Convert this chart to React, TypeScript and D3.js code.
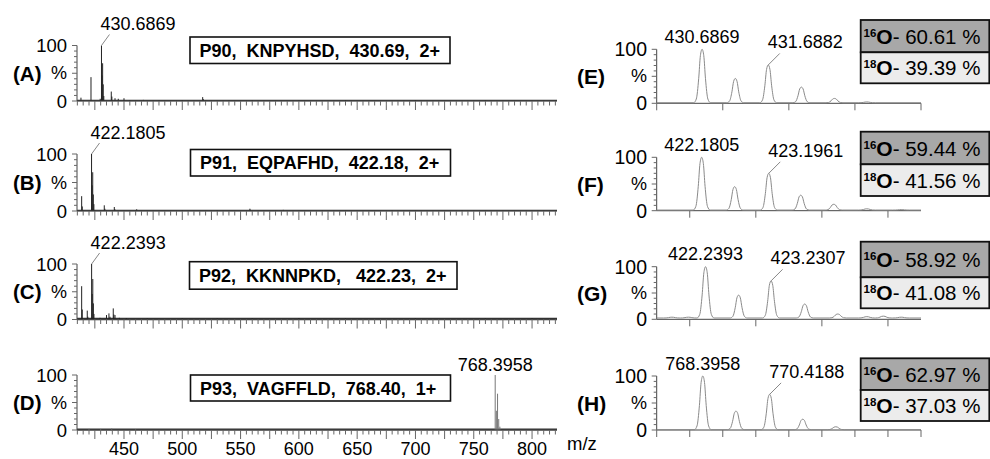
import React, { useEffect } from 'react';
import * as d3 from 'd3';

const W = 990;
const H = 459;
const FONT = '"Liberation Sans", Arial, Helvetica, sans-serif';

// ---------- Left panels (full MS spectra) ----------
const leftLetters = ['(A)', '(B)', '(C)', '(D)'];
const leftTitles = [
  'P90,  KNPYHSD,  430.69,  2+',
  'P91,  EQPAFHD,  422.18,  2+',
  'P92,  KKNNPKD,   422.23,  2+',
  'P93,  VAGFFLD,  768.40,  1+',
];
const leftPeakLabels = ['430.6869', '422.1805', '422.2393', '768.3958'];
const leftPeakMz = [430.6869, 422.1805, 422.2393, 768.3958];
const leftTickLabels = [450, 500, 550, 600, 650, 700, 750, 800];

const spectrumA: [number, number][] = [
  [413.1, 6], [421.7, 43], [429.6, 4], [430.6869, 100], [431.19, 46], [431.69, 68], [432.19, 30], [432.69, 9],
  [439.1, 17], [439.6, 8], [442.3, 5], [445.1, 4], [450.0, 5], [455, 1.5], [466.6, 2], [480, 1.2], [500, 1.5],
  [517.5, 7], [518.2, 3], [540, 1], [560, 1.5], [600, 1], [640, 1.2], [700, 1], [760, 1],
];
const spectrumB: [number, number][] = [
  [413.7, 26], [414.2, 8], [422.1805, 100], [422.68, 45], [423.18, 68], [423.68, 29], [424.18, 12],
  [433.1, 10], [433.6, 4], [441.7, 7], [442.2, 3], [460.9, 3], [500, 1.2], [530, 1], [558, 4], [558.5, 2],
  [586.6, 2], [620, 1], [680, 1], [740, 1],
];
const spectrumC: [number, number][] = [
  [413.7, 60], [414.2, 18], [418.5, 16], [419.0, 5], [422.2393, 100], [422.74, 46], [423.24, 73], [423.74, 29], [424.24, 10],
  [429.4, 3], [435.0, 8], [437.1, 11], [438.0, 5], [440.8, 20], [441.3, 9], [442.3, 8], [446, 3], [452, 2.5],
  [470, 2], [500, 2], [530, 2], [560, 2], [600, 2.5], [640, 2], [700, 2], [760, 2], [800, 2],
];
const spectrumD: [number, number][] = [
  [420, 2], [430, 2], [439.5, 3], [460, 1.5], [768.3958, 100], [769.40, 35], [770.42, 66], [771.42, 20], [772.42, 6],
];
const leftSpectra = [spectrumA, spectrumB, spectrumC, spectrumD];

// ---------- Right panels (isotope envelopes) ----------
const rightLetters = ['(E)', '(F)', '(G)', '(H)'];
const rightDomains: [number, number][] = [[430, 434], [421.5, 425.5], [421.5, 425.5], [767, 775]];
const rightTicks = [
  [430, 431, 432, 433, 434],
  [422, 423, 424, 425],
  [422, 423, 424, 425],
  [767, 768, 769, 770, 771, 772, 773, 774, 775],
];
const rightLabel1 = ['430.6869', '422.1805', '422.2393', '768.3958'];
const rightLabel2 = ['431.6882', '423.1961', '423.2307', '770.4188'];
const envelopeE: [number, number][] = [
  [430.6869, 100], [431.19, 46], [431.6882, 71], [432.19, 30], [432.69, 9], [433.18, 2.5],
];
const envelopeF: [number, number][] = [
  [422.1805, 100], [422.68, 45], [423.1961, 70], [423.68, 29], [424.18, 12], [424.68, 3.5], [425.2, 2],
];
const envelopeG: [number, number][] = [
  [421.73, 4], [421.98, 4], [422.2393, 100], [422.74, 46], [423.2307, 73], [423.74, 29], [424.24, 10],
  [424.68, 5], [424.93, 6], [425.2, 4],
];
const envelopeH: [number, number][] = [
  [768.3958, 100], [769.40, 35], [770.4188, 66], [771.42, 20], [772.42, 6],
];
const rightEnvelopes = [envelopeE, envelopeF, envelopeG, envelopeH];
const rightBaselines = [1, 1.2, 2.5, 0.6];

const o16Values = ['60.61', '59.44', '58.92', '62.97'];
const o18Values = ['39.39', '41.56', '41.08', '37.03'];

// ---------- Layout (style) ----------
const leftX: [number, number] = [77, 557];
const leftDomain: [number, number] = [409.7, 821.4];
const leftRows = [
  { y0: 101, y100: 45.5, box: [190, 37, 260, 26.5], base: 1.4 },
  { y0: 211, y100: 154, box: [190.5, 149.5, 260, 26.5], base: 1.4 },
  { y0: 319.5, y100: 264, box: [189.5, 261.7, 267.5, 27.5], base: 2.4 },
  { y0: 430, y100: 375, box: [190.5, 375, 260, 26], base: 1.8 },
];
const rightX: [number, number] = [656.7, 921];
const rightRows = [
  { y0: 103.3, y100: 49.3, box: [20, 52.3, 83.3] },
  { y0: 210.7, y100: 157.3, box: [131.7, 164.3, 196] },
  { y0: 319.3, y100: 266.7, box: [241.7, 277.3, 308.3] },
  { y0: 430, y100: 376, box: [358.3, 390, 421] },
];

const shapeDx = [-8.5, -5.8, -3.4, -1.7, 0, 1.7, 3.4, 5.8, 8.5];
const shapeF = [0, 0.07, 0.45, 0.88, 1, 0.88, 0.45, 0.07, 0];

function LeftPanel({ i }: { i: number }) {
  const row = leftRows[i];
  const x = d3.scaleLinear().domain(leftDomain).range(leftX);
  const y = d3.scaleLinear().domain([0, 100]).range([row.y0, row.y100]);
  const peaks = leftSpectra[i];
  const stickPath = peaks.map(([m, v]) => `M${x(m).toFixed(2)},${y(0)}V${y(v).toFixed(2)}`).join('');
  const minor = d3.range(410, leftDomain[1], 5);
  const yTicks = d3.range(0, 101, 10);
  const pm = leftPeakMz[i];
  const px = x(pm);
  const isD = i === 3;
  const [bx, by, bw, bh] = row.box;
  return (
    <g>
      <line x1={leftX[0]} x2={leftX[1]} y1={y(0) - 0.5} y2={y(0) - 0.5} stroke="#333" strokeWidth={row.base} />
      <path d={stickPath} stroke={isD ? '#777' : '#222'} strokeWidth={1} fill="none" />
      <line x1={leftX[0]} x2={leftX[1]} y1={y(0)} y2={y(0)} stroke="#444" strokeWidth={1} />
      {minor.map((t) => (
        <line key={t} x1={x(t)} x2={x(t)} y1={y(0)} y2={y(0) + (t % 25 === 0 ? 9 : 4.5)} stroke="#666" strokeWidth={1} />
      ))}
      <line x1={leftX[0]} x2={leftX[0]} y1={y(0)} y2={y(100)} stroke="#444" strokeWidth={1} />
      {yTicks.map((t) => (
        <line key={t} x1={leftX[0] - (t % 50 === 0 ? 5 : 3)} x2={leftX[0]} y1={y(t)} y2={y(t)} stroke="#666" strokeWidth={1} />
      ))}
      <text x={67} y={y(100) + 6.5} fontSize={18.5} textAnchor="end" fontFamily={FONT}>100</text>
      <text x={67} y={y(0) + 6.5} fontSize={18.5} textAnchor="end" fontFamily={FONT}>0</text>
      <text x={67} y={(y(0) + y(100)) / 2 + 6} fontSize={18} textAnchor="end" fontFamily={FONT}>%</text>
      <text x={13} y={(y(0) + y(100)) / 2 + 7.5} fontSize={20.5} fontWeight="bold" fontFamily={FONT}>{leftLetters[i]}</text>
      {isD ? (
        <text x={px} y={y(100) - 4} fontSize={18} textAnchor="middle" fontFamily={FONT}>{leftPeakLabels[i]}</text>
      ) : (
        <g>
          <line x1={px} y1={y(100)} x2={px + 8} y2={y(100) - 11} stroke="#888" strokeWidth={1} />
          <text x={px - 1} y={y(100) - 15.5} fontSize={18} fontFamily={FONT}>{leftPeakLabels[i]}</text>
        </g>
      )}
      <rect x={bx} y={by} width={bw} height={bh} fill="#fff" stroke="#111" strokeWidth={1.6} />
      <text x={bx + 9.5} y={by + bh / 2 + 6.5} fontSize={18} fontWeight="bold" fontFamily={FONT} style={{ whiteSpace: 'pre' }}>
        {leftTitles[i]}
      </text>
      {isD && (
        <g>
          {leftTickLabels.map((t) => (
            <text key={t} x={x(t)} y={454.5} fontSize={18} textAnchor="middle" fontFamily={FONT}>{t}</text>
          ))}
          <text x={567} y={y(0) + 20} fontSize={18.5} fontFamily={FONT}>m/z</text>
        </g>
      )}
    </g>
  );
}

function RightPanel({ i }: { i: number }) {
  const row = rightRows[i];
  const dom = rightDomains[i];
  const x = d3.scaleLinear().domain(dom).range(rightX);
  const y = d3.scaleLinear().domain([0, 100]).range([row.y0, row.y100]);
  const pxPerMz = (rightX[1] - rightX[0]) / (dom[1] - dom[0]);
  const base = rightBaselines[i];
  const pts: [number, number][] = [[dom[0], base]];
  rightEnvelopes[i].forEach(([c, h]) => {
    shapeDx.forEach((dx, k) => pts.push([c + dx / pxPerMz, base + (h - base) * shapeF[k]]));
  });
  pts.push([dom[1], base]);
  pts.sort((a, b) => a[0] - b[0]);
  const line = d3.line<[number, number]>().x((d) => x(d[0])).y((d) => y(d[1])).curve(d3.curveMonotoneX);
  const yTicks = d3.range(0, 101, 10);
  const env = rightEnvelopes[i];
  const p1 = env.find((p) => p[1] === 100)!;
  const after = env.filter((p) => p[0] > p1[0]);
  const p2 = after[1];
  const [bt, bm, bb] = row.box;
  const bx = 860.7;
  const bw = 128.6;
  return (
    <g>
      <line x1={rightX[0]} x2={rightX[1]} y1={y(0)} y2={y(0)} stroke="#444" strokeWidth={1} />
      {rightTicks[i].map((t) => (
        <line key={t} x1={x(t)} x2={x(t)} y1={y(0)} y2={y(0) + 7} stroke="#666" strokeWidth={1} />
      ))}
      <line x1={rightX[0]} x2={rightX[0]} y1={y(0)} y2={y(100)} stroke="#444" strokeWidth={1} />
      {yTicks.map((t) => (
        <line key={t} x1={rightX[0] - (t % 50 === 0 ? 5 : 3)} x2={rightX[0]} y1={y(t)} y2={y(t)} stroke="#666" strokeWidth={1} />
      ))}
      <path d={line(pts) || ''} fill="none" stroke="#8a8a8a" strokeWidth={1} />
      <text x={647} y={y(100) + 7} fontSize={19.5} textAnchor="end" fontFamily={FONT}>100</text>
      <text x={647} y={y(0) + 7} fontSize={19.5} textAnchor="end" fontFamily={FONT}>0</text>
      <text x={647} y={(y(0) + y(100)) / 2 + 6} fontSize={18} textAnchor="end" fontFamily={FONT}>%</text>
      <text x={577} y={(y(0) + y(100)) / 2 + 8} fontSize={21} fontWeight="bold" fontFamily={FONT}>{rightLetters[i]}</text>
      <text x={x(p1[0])} y={y(100) - 6.5} fontSize={18} textAnchor="middle" fontFamily={FONT}>{rightLabel1[i]}</text>
      <line x1={x(p2[0])} y1={y(p2[1])} x2={x(p2[0]) + 11.5} y2={y(p2[1]) - 11.5} stroke="#888" strokeWidth={1} />
      <text x={x(p2[0]) - 0.5} y={y(p2[1]) - 16.5} fontSize={18} fontFamily={FONT}>{rightLabel2[i]}</text>
      <rect x={bx} y={bt} width={bw} height={bm - bt} fill="#a8a8a8" stroke="#111" strokeWidth={1.8} />
      <rect x={bx} y={bm} width={bw} height={bb - bm} fill="#ececec" stroke="#111" strokeWidth={1.8} />
      {[
        ['16', o16Values[i], (bt + bm) / 2],
        ['18', o18Values[i], (bm + bb) / 2],
      ].map(([iso, val, cy]) => (
        <text key={iso as string} x={bx + 2.8} y={(cy as number) + 7.5} fontFamily={FONT}>
          <tspan fontSize={11.5} fontWeight="bold" dy={-7}>{iso}</tspan>
          <tspan fontSize={21} fontWeight="bold" dy={7}>O</tspan>
          <tspan fontSize={20.5}>{`- ${val} %`}</tspan>
        </text>
      ))}
    </g>
  );
}

export default function App() {
  useEffect(() => {
    document.body.style.margin = '0';
  }, []);
  return (
    <svg width={W} height={H} viewBox={`0 0 ${W} ${H}`} style={{ display: 'block', background: '#fff' }}>
      <rect x={0} y={0} width={W} height={H} fill="#fff" />
      {[0, 1, 2, 3].map((i) => <LeftPanel key={`l${i}`} i={i} />)}
      {[0, 1, 2, 3].map((i) => <RightPanel key={`r${i}`} i={i} />)}
    </svg>
  );
}
